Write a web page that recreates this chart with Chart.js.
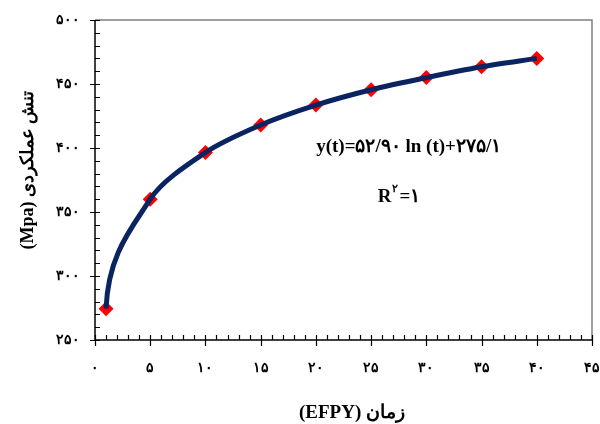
<!DOCTYPE html>
<html>
<head>
<meta charset="utf-8">
<script src="https://cdn.jsdelivr.net/npm/chart.js"></script>
<style>body{margin:0;background:#fff}</style>
</head>
<body>
<canvas id="stress-chart" width="600" height="424"></canvas>
<script>
// EFPY years and operating stress (Mpa)
var years = [1, 5, 10, 15, 20, 25, 30, 35, 40];
var stress = [274.5, 360, 396.5, 418, 433.5, 445.5, 455, 463.5, 470];

var xTickValues = [0, 5, 10, 15, 20, 25, 30, 35, 40, 45];
var xTickLabels = ['۰', '۵', '۱۰', '۱۵', '۲۰', '۲۵', '۳۰', '۳۵', '۴۰', '۴۵'];
var yTickValues = [250, 300, 350, 400, 450, 500];
var yTickLabels = ['۲۵۰', '۳۰۰', '۳۵۰', '۴۰۰', '۴۵۰', '۵۰۰'];

var equationText = 'y(t)=۵۲/۹۰ ln (t)+۲۷۵/۱';
var yTitle = '(Mpa) تنش عملکردی';
var xTitle = '(EFPY) زمان';

var points = years.map(function (t, i) { return {x: t, y: stress[i]}; });

var serif = '"Liberation Serif", "Times New Roman", serif';

// axes with crossing major ticks and inner minor ticks, grey frame top/right
var axesPlugin = {
    id: 'axesPlugin',
    beforeDatasetsDraw: function (chart) {
        var ctx = chart.ctx, a = chart.chartArea;
        var xs = chart.scales.x, ys = chart.scales.y;
        ctx.save();
        ctx.strokeStyle = '#808080';
        ctx.lineWidth = 1.5;
        ctx.beginPath();
        ctx.moveTo(a.left, a.top); ctx.lineTo(a.right, a.top); ctx.lineTo(a.right, a.bottom);
        ctx.stroke();

        ctx.strokeStyle = '#000';
        ctx.lineWidth = 1.5;
        ctx.beginPath();
        ctx.moveTo(a.left, a.top); ctx.lineTo(a.left, a.bottom); ctx.lineTo(a.right, a.bottom);
        ctx.stroke();

        ctx.lineWidth = 1.2;
        ctx.beginPath();
        for (var v = ys.min; v <= ys.max; v += 10) {
            var py = Math.round(ys.getPixelForValue(v)) + 0.5;
            var major = v % 50 === 0;
            ctx.moveTo(a.left - (major ? 5 : 0), py);
            ctx.lineTo(a.left + 5, py);
        }
        for (var u = xs.min; u <= xs.max; u += 1) {
            var px = Math.round(xs.getPixelForValue(u)) + 0.5;
            var maj = u % 5 === 0;
            ctx.moveTo(px, a.bottom - 5);
            ctx.lineTo(px, a.bottom + (maj ? 6 : 0));
        }
        ctx.stroke();
        ctx.restore();
    },
    // make the trend start steeper, like a log curve
    beforeDatasetDraw: function (chart, args) {
        if (args.index !== 0) return;
        var meta = args.meta;
        meta.dataset.updateControlPoints(chart.chartArea, meta.indexAxis);
        var p0 = meta.data[0], p1 = meta.data[1];
        p0.cp2x = p0.x + (p1.x - p0.x) * 0.05;
        p0.cp2y = p0.y + (p1.y - p0.y) * 0.5;
    },
    afterDraw: function (chart) {
        var ctx = chart.ctx;
        var xs = chart.scales.x, ys = chart.scales.y;
        ctx.save();
        ctx.fillStyle = '#000';
        ctx.textBaseline = 'middle';
        ctx.textAlign = 'center';

        // y axis title
        ctx.save();
        ctx.translate(28, 170);
        ctx.rotate(-Math.PI / 2);
        ctx.font = 'bold 18px ' + serif;
        ctx.fillText(yTitle, 0, 0);
        ctx.restore();

        ctx.font = 'bold 19px ' + serif;
        ctx.fillText(xTitle, 352, 413);

        ctx.fillText(equationText, xs.getPixelForValue(28.4), ys.getPixelForValue(401));

        var rx = xs.getPixelForValue(25.6), ry = ys.getPixelForValue(362);
        ctx.textAlign = 'left';
        ctx.fillText('R', rx, ry);
        var w = ctx.measureText('R').width;
        ctx.font = 'bold 11px ' + serif;
        ctx.fillText('۲', rx + w + 1, ry - 7);
        var w2 = ctx.measureText('۲').width;
        ctx.font = 'bold 19px ' + serif;
        ctx.fillText('=۱', rx + w + w2 + 2, ry);
        ctx.restore();
    }
};

window.onload = function () {
    var ctx = document.getElementById('stress-chart');
    var myChart = new Chart(ctx, {
        type: 'line',
        data: {
            datasets: [
                {
                    label: 'trend',
                    data: points,
                    borderColor: '#0a2462',
                    borderWidth: 5,
                    tension: 0.3,
                    pointRadius: 0,
                    fill: false
                },
                {
                    label: 'stress',
                    data: points,
                    showLine: false,
                    pointStyle: 'rectRot',
                    pointRadius: 7.5,
                    pointBackgroundColor: '#ff0000',
                    pointBorderColor: '#ff0000',
                    pointBorderWidth: 0
                }
            ]
        },
        options: {
            responsive: false,
            animation: false,
            layout: {autoPadding: false, padding: {top: 20, right: 8, left: 0, bottom: 0}},
            plugins: {legend: {display: false}, tooltip: {enabled: false}},
            scales: {
                x: {
                    type: 'linear',
                    min: 0,
                    max: 45,
                    afterBuildTicks: function (scale) {
                        scale.ticks = xTickValues.map(function (v) { return {value: v}; });
                    },
                    afterFit: function (scale) {
                        scale.height = 84;
                        scale.paddingLeft = 0;
                        scale.paddingRight = 0;
                    },
                    grid: {display: false, drawTicks: false},
                    border: {display: false},
                    ticks: {
                        padding: 20,
                        maxRotation: 0,
                        color: '#000',
                        font: {family: serif, size: 14, weight: 'bold'},
                        callback: function (v) { return xTickLabels[xTickValues.indexOf(v)]; }
                    }
                },
                y: {
                    min: 250,
                    max: 500,
                    afterBuildTicks: function (scale) {
                        scale.ticks = yTickValues.map(function (v) { return {value: v}; });
                    },
                    afterFit: function (scale) {
                        scale.width = 95;
                        scale.paddingTop = 0;
                        scale.paddingBottom = 0;
                    },
                    grid: {display: false, drawTicks: false},
                    border: {display: false},
                    ticks: {
                        padding: 15,
                        color: '#000',
                        font: {family: serif, size: 14, weight: 'bold'},
                        callback: function (v) { return yTickLabels[yTickValues.indexOf(v)]; }
                    }
                }
            }
        },
        plugins: [axesPlugin]
    });
};
</script>
</body>
</html>
